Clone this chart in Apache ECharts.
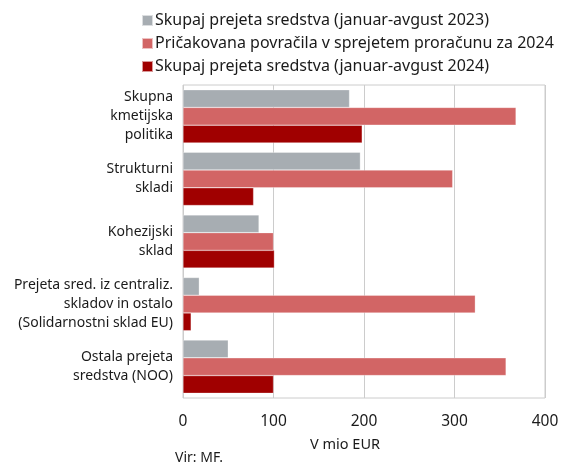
<!DOCTYPE html>
<html>
<head>
<meta charset="utf-8">
<script src="https://cdn.jsdelivr.net/npm/echarts@6/dist/echarts.min.js"></script>
<style>
  html, body { margin: 0; padding: 0; background: #fff; }
  #chart { width: 563px; height: 467px; }
</style>
</head>
<body>
<div id="chart"></div>
<script>
// Categories (top to bottom)
const categories = [
  'Skupna\nkmetijska\npolitika',
  'Strukturni\nskladi',
  'Kohezijski\nsklad',
  'Prejeta sred. iz centraliz.\nskladov in ostalo\n(Solidarnostni sklad EU)',
  'Ostala prejeta\nsredstva (NOO)'
];

const seriesNames = [
  'Skupaj prejeta sredstva (januar-avgust 2023)',
  'Pričakovana povračila v sprejetem proračunu za 2024',
  'Skupaj prejeta sredstva (januar-avgust 2024)'
];

// Values in million EUR
const received2023 = [184, 196, 84, 18, 50];
const expected2024 = [368, 298, 100, 323, 357];
const received2024 = [198, 78, 101, 9, 100];

const xTicks = [0, 100, 200, 300, 400];

const colors = ['#a7adb2', '#d26565', '#a00000'];
const font = '"Noto Sans", sans-serif';

const chart = echarts.init(document.getElementById('chart'), null, { renderer: 'canvas' });

const dataSets = [received2023, expected2024, received2024];

chart.setOption({
  animation: false,
  textStyle: { fontFamily: font, color: '#1a1a1a' },
  legend: {
    orient: 'vertical',
    left: 136,
    top: 6,
    itemWidth: 11,
    itemHeight: 11,
    itemGap: 4,
    icon: 'rect',
    data: seriesNames,
    textStyle: { fontFamily: font, fontSize: 16, lineHeight: 19, color: '#1a1a1a', padding: [0, 0, 0, -3] }
  },
  grid: { left: 183, right: 18, top: 85, bottom: 69, containLabel: false, show: true, borderColor: '#cccccc', borderWidth: 1 },
  xAxis: {
    type: 'value',
    min: xTicks[0],
    max: xTicks[xTicks.length - 1],
    interval: 100,
    axisLine: { show: false },
    axisTick: { show: false },
    axisLabel: { fontFamily: font, fontSize: 15.5, color: '#1a1a1a', margin: 16 },
    splitLine: { show: true, lineStyle: { color: '#cccccc', width: 1 } }
  },
  yAxis: {
    type: 'category',
    inverse: true,
    data: categories,
    axisLine: { show: false },
    axisTick: { show: false },
    axisLabel: { fontFamily: font, fontSize: 14, color: '#1a1a1a', lineHeight: 19, margin: 10, align: 'right' }
  },
  graphic: [{
    type: 'text',
    x: 345,
    y: 445,
    style: { text: 'V mio EUR', fontFamily: font, fontSize: 14.5, fill: '#1a1a1a', align: 'center', verticalAlign: 'middle' }
  }, {
    type: 'text',
    x: 175,
    y: 458,
    style: { text: 'Vir: MF.', fontFamily: font, fontSize: 14, fill: '#1a1a1a', align: 'left', verticalAlign: 'middle' }
  }],
  series: seriesNames.map((name, i) => ({
    name,
    type: 'bar',
    data: dataSets[i],
    barGap: '0%',
    barCategoryGap: '15%',
    itemStyle: { color: colors[i], borderColor: 'rgba(255,255,255,0.6)', borderWidth: 0.5 }
  }))
});
</script>
</body>
</html>
